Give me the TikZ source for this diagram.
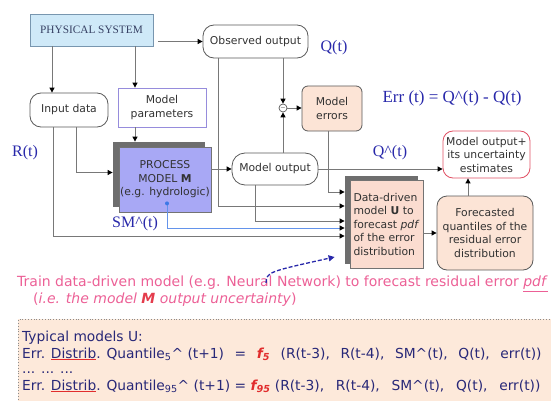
\documentclass[tikz,border=0pt]{standalone}
\usepackage{fontspec}
\setmainfont{DejaVu Sans}[ItalicFont={DejaVu Sans Oblique},BoldFont={DejaVu Sans Bold},BoldItalicFont={DejaVu Sans Bold Oblique}]
\newfontfamily\sigfont{Liberation Serif}
\usepackage{xcolor}
\usetikzlibrary{arrows.meta, shadows}

\definecolor{physfill}{RGB}{207,233,248}
\definecolor{physdraw}{RGB}{120,150,175}
\definecolor{phystext}{RGB}{55,65,100}
\definecolor{paramdraw}{RGB}{150,140,220}
\definecolor{procfill}{RGB}{168,168,245}
\definecolor{peach}{RGB}{252,228,214}
\definecolor{ddmfill}{RGB}{251,220,208}
\definecolor{outred}{RGB}{225,80,100}
\definecolor{sigblue}{RGB}{40,40,170}
\definecolor{smblue}{RGB}{60,120,230}
\definecolor{trainpink}{RGB}{236,96,150}
\definecolor{fred}{RGB}{225,45,45}
\definecolor{typfill}{RGB}{253,233,218}
\definecolor{typtext}{RGB}{40,40,120}
\definecolor{linegray}{RGB}{120,120,120}
\definecolor{shadowgray}{RGB}{110,110,110}
\definecolor{boxtext}{RGB}{50,50,50}

% spell-check underline, red quantile functions, stretchable gap
\newcommand{\spellul}[1]{\textcolor{fred}{\underline{\textcolor{typtext}{#1}}}}
\newcommand{\fq}[1]{\textcolor{fred}{\textbf{\textit{f\textsubscript{#1}}}}}
\newcommand{\gap}{\hspace{4pt plus 1fil}}

\begin{document}
\begin{tikzpicture}[
        x=1pt, y=-1pt,
        % Stili per i blocchi
        box/.style={rectangle, draw=black!65, line width=0.8pt, align=center, text=boxtext, inner sep=1pt, font=\fontsize{10.8}{13.5}\selectfont},
        rbox/.style={box, rounded corners=11pt},
        physbox/.style={box, draw=physdraw, fill=physfill, text=phystext, font=\sigfont\fontsize{11.3}{13}\selectfont, minimum width=123, minimum height=32},
        parambox/.style={box, draw=paramdraw, fill=white, minimum width=88, minimum height=39},
        procbox/.style={box, draw=black!55, fill=procfill, minimum width=92, minimum height=65, general shadow={fill=shadowgray, shadow xshift=-6pt, shadow yshift=5pt}},
        ddmbox/.style={box, draw=black!55, fill=ddmfill, align=left, minimum width=73, minimum height=88, general shadow={fill=shadowgray, shadow xshift=-5pt, shadow yshift=4pt}},
        minusnode/.style={circle, draw=black!65, line width=0.7pt, fill=white, minimum size=8, inner sep=0pt, font=\fontsize{6}{6}\selectfont},
        % Stili per le etichette e frecce
        sig/.style={font=\sigfont\fontsize{16}{16}\selectfont, text=sigblue, inner sep=0pt},
        train/.style={anchor=west, font=\fontsize{14}{14}\selectfont, text=trainpink, inner sep=0pt},
        typline/.style={anchor=base west, font=\fontsize{13.8}{14}\selectfont, text=typtext, inner sep=0pt},
        arrow/.style={-{Triangle[length=5pt, width=5pt, color=black]}, draw=linegray, line width=0.9pt},
        smarrow/.style={arrow, draw=smblue!80},
        dasharrow/.style={-{Triangle[length=6pt, width=6pt]}, draw=sigblue, line width=1.3pt, dash pattern=on 4pt off 2pt}
    ]

    \useasboundingbox (0,0) rectangle (551,401);
    \clip (0,0) rectangle (551,401);

    % --- SYSTEM AND INPUTS ---
    \node[physbox] (PHYS) at (91.5,30) {PHYSICAL SYSTEM};
    \node[rbox, minimum width=105, minimum height=33] (Obs) at (255.5,41.5) {Observed output};
    \node[rbox, minimum width=78, minimum height=34] (Input) at (69,110) {Input data};
    \node[parambox] (Params) at (162,107.5) {Model\\parameters};

    % --- PROCESS MODEL ---
    \node[procbox] (PM) at (165,179.5) {PROCESS\\MODEL \textbf{M}\\(e.g. hydrologic)};
    \node[rbox, rounded corners=13pt, minimum width=86, minimum height=32] (MO) at (275,169) {Model output};
    \node[minusnode] (minus) at (283,108) {$-$};
    \node[box, rounded corners=6pt, fill=peach, minimum width=60, minimum height=45] (Errors) at (332,108.5) {Model\\errors};

    % --- ERROR MODEL ---
    \node[ddmbox] (DDM) at (386.5,224) {Data-driven\\model \textbf{U} to\\forecast \textit{pdf}\\of the error\\distribution};
    \node[box, rounded corners=10pt, fill=peach, minimum width=96, minimum height=74] (Fc) at (485,233) {Forecasted\\quantiles of the\\residual error\\distribution};
    \node[box, rounded corners=10pt, draw=outred, fill=white, minimum width=87, minimum height=47] (MOplus) at (486.5,154.5) {Model output+\\its uncertainty\\estimates};

    % --- SIGNALS ---
    \node[sig] (Qt) at (334,48) {Q(t)};
    \node[sig] (Rt) at (25,153) {R(t)};
    \node[sig] (SMt) at (135,224) {SM\textasciicircum(t)};
    \node[sig] (Qhat) at (390,153) {Q\textasciicircum(t)};
    \node[sig, font=\sigfont\fontsize{17}{17}\selectfont] (ErrEq) at (452,98) {Err (t) = Q\textasciicircum(t) - Q(t)};

    % --- ARROWS ---
    \draw[arrow, shorten <=5pt] (PHYS.east |- Obs.west) -- (Obs.west);
    \draw[arrow] ([xshift=-17pt]Input.north |- PHYS.south) -- ([xshift=-17pt]Input.north);
    \draw[arrow] ([xshift=-27pt]Params.north |- PHYS.south) -- ([xshift=-27pt]Params.north);
    \draw[arrow, shorten >=5pt] ([xshift=-27pt]Params.south) -- ([xshift=-27pt]Params.south |- PM.north);
    \draw[arrow] ([xshift=7pt]Input.south) |- ([xshift=-6pt, yshift=7pt]PM.west);
    \draw[arrow] (PM.east |- MO.west) -- (MO.west);
    \draw[arrow] (minus.north |- Obs.south) -- (minus.north);
    \draw[arrow] (minus.south |- MO.north) -- (minus.south);
    \draw[arrow] (minus.east) -- (Errors.west |- minus.east);
    \draw[arrow] ([xshift=-4pt]Errors.south) |- ([xshift=-5pt, yshift=32pt]DDM.west);
    \draw[arrow] ([xshift=-37pt]Obs.south) |- ([xshift=-5pt, yshift=18pt]DDM.west);
    \draw[arrow] ([xshift=-20pt]MO.south) |- ([xshift=-5pt, yshift=3pt]DDM.west);
    \coordinate (SMdot) at ([xshift=2pt, yshift=9pt]PM.south);
    \draw[smarrow] (SMdot) |- ([xshift=-5pt, yshift=-4pt]DDM.west);
    \fill[smblue] (SMdot) circle (2pt);
    \draw[arrow] ([xshift=-16pt]Input.south) |- ([xshift=-5pt, yshift=-12pt]DDM.west);
    \draw[arrow] (MO.east) -- (MOplus.west |- MO.east);
    \draw[arrow] (DDM.east |- Fc.west) -- (Fc.west);
    \draw[arrow] ([xshift=-17pt]Fc.north) -- ([xshift=-17pt]Fc.north |- MOplus.south);

    % --- TRAINING NOTE ---
    \node[train] (Train) at (17,284) {Train data-driven model (e.g. Neural Network) to forecast residual error \underline{\textit{pdf}}};
    \node[train] (TrainNote) at (33,300) {(\textit{i.e. the model \textcolor{fred!70!trainpink}{\textbf{M}} output uncertainty})};
    \coordinate (NNstart) at (266,283);
    \draw[dasharrow] (NNstart) .. controls (267,272) .. ([xshift=-15pt, yshift=-33pt]DDM.west);

    % --- TYPICAL MODELS ---
    \node[draw=black!45, dotted, line width=0.8pt, fill=typfill, anchor=north west, minimum width=560, minimum height=100] (Typ) at (18,319) {};
    \node[typline] (T0) at (22,341) {Typical models U:};
    \node[typline] (T1) at (22,358) {\makebox[526pt][l]{Err. \spellul{Distrib}. Quantile\textsubscript{5}\textasciicircum{} (t+1)\gap=\gap\fq{5}\gap(R(t-3),\gap R(t-4),\gap SM\textasciicircum(t),\gap Q(t),\gap err(t))}};
    \node[typline] (T2) at (22,373) {... ... ...};
    \node[typline] (T3) at (22,390) {\makebox[526pt][l]{Err. \spellul{Distrib}. Quantile\textsubscript{95}\textasciicircum{} (t+1) = \fq{95} (R(t-3),\gap R(t-4),\gap SM\textasciicircum(t),\gap Q(t),\gap err(t))}};

\end{tikzpicture}
\end{document}
